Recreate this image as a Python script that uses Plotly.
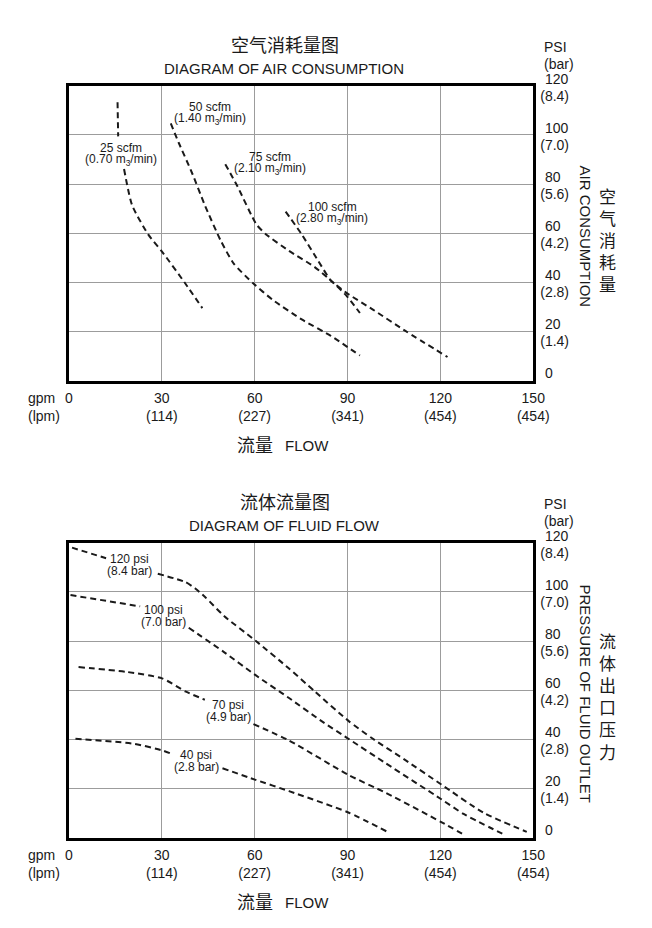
import plotly.graph_objects as go

W, H = 652, 928
FONT = "Liberation Sans, Arial, sans-serif"
CJK = "Noto Sans CJK SC, sans-serif"
INK = "#1a1a1a"
GRID = "#9c9c9c"

# ---------------- data ----------------
gpm_ticks = [0, 30, 60, 90, 120, 150]
gpm_text = ["0", "30", "60", "90", "120", "150"]
lpm_ticks = [30, 60, 90, 120, 150]
lpm_text = ["(114)", "(227)", "(341)", "(454)", "(454)"]
psi_ticks = [0, 20, 40, 60, 80, 100, 120]
psi_text = ["0", "20", "40", "60", "80", "100", "120"]
bar_ticks = [20, 40, 60, 80, 100, 120]
bar_text = ["(1.4)", "(2.8)", "(4.2)", "(5.6)", "(7.0)", "(8.4)"]

# Air consumption (top chart)
air_names = ["25 scfm", "50 scfm", "75 scfm", "100 scfm"]
air_units = ["(0.70 m<sub>3</sub>/min)", "(1.40 m<sub>3</sub>/min)",
             "(2.10 m<sub>3</sub>/min)", "(2.80 m<sub>3</sub>/min)"]
air25_gpm = [15.7, 15.9, None, 17.8, 20.4, 25.6, 30.3, 37.6, 43.1]
air25_psi = [113.3, 99.4, None, 86.1, 71.4, 59.5, 52.1, 39.5, 29.5]
air50_gpm = [32.9, 35.5, 39.7, 43.9, 49.1, 53.3, 59.6, 65.8, 75.2, 84.6, 94.0]
air50_psi = [104.7, 96.7, 84.7, 71.4, 56.8, 47.5, 39.5, 32.9, 24.9, 18.2, 10.2]
air75_gpm = [50.5, 54.3, 60.6, 63.7, 71.1, 79.4, 85.7, 89.9, 94.0]
air75_psi = [88.1, 79.4, 63.5, 59.5, 52.8, 46.2, 39.5, 34.2, 27.5]
air100_gpm = [70.0, 75.2, 80.5, 84.6, 89.9, 98.2, 108.7, 122.3]
air100_psi = [68.8, 59.5, 48.8, 40.8, 35.5, 28.9, 20.2, 9.6]

# Fluid flow (bottom chart)
fluid_names = ["120 psi", "100 psi", "70 psi", "40 psi"]
fluid_units = ["(8.4 bar)", "(7.0 bar)", "(4.9 bar)", "(2.8 bar)"]
f120_gpm = [1.0, 12.0, None, 28.7, 37.6, 40.8, 43.9, 50.2, 60.3, 71.1, 79.4, 90.3, 98.2, 108.7, 120.3, 133.8, 147.9]
f120_psi = [118.0, 113.7, None, 107.4, 104.0, 101.4, 98.0, 90.1, 80.1, 68.8, 59.5, 47.5, 40.2, 31.5, 21.6, 10.2, 2.3]
f100_gpm = [0.5, 23.0, None, 38.7, 50.2, 60.3, 71.1, 81.5, 90.3, 102.4, 120.3, 127.5, 140.0]
f100_psi = [98.7, 94.1, None, 85.4, 75.4, 66.1, 56.8, 47.5, 40.2, 30.2, 15.6, 9.6, 1.6]
f70_gpm = [3.1, 18.8, 30.1, 37.6, 43.9, None, 59.6, 71.1, 90.3, 102.4, 120.3, 128.0]
f70_psi = [69.4, 67.4, 64.8, 59.5, 56.1, None, 46.2, 39.5, 25.5, 18.2, 6.3, 0.9]
f40_gpm = [2.1, 20.9, 30.1, 32.9, None, 49.6, 60.3, 71.1, 90.3, 103.4]
f40_psi = [40.2, 38.2, 35.5, 34.2, None, 28.2, 23.5, 18.9, 10.2, 2.0]

# label anchor points (data coordinates)
air_label_gpm = [16.9, 45.6, 65.0, 85.0]
air_label_psi = [92.4, 108.8, 88.4, 68.4]
fluid_label_gpm = [19.6, 30.5, 51.5, 41.2]
fluid_label_psi = [111.1, 90.3, 51.5, 31.1]

# ---------------- figure ----------------
X0, X1 = 67, 546
TOP = (72, 372)
BOT = (537, 837)
TICK_FS = 14


def xd(px):
    return px / W


def yd(py):
    return 1 - py / H


fig = go.Figure()

dash_line = dict(color=INK, width=2, dash="6px,4px", shape="spline", smoothing=0.6)

for gx, gy in [(air25_gpm, air25_psi), (air50_gpm, air50_psi),
               (air75_gpm, air75_psi), (air100_gpm, air100_psi)]:
    fig.add_trace(go.Scatter(x=gx, y=gy, mode="lines", line=dash_line,
                             xaxis="x", yaxis="y", showlegend=False,
                             hoverinfo="skip", connectgaps=False))

for gx, gy in [(f120_gpm, f120_psi), (f100_gpm, f100_psi),
               (f70_gpm, f70_psi), (f40_gpm, f40_psi)]:
    fig.add_trace(go.Scatter(x=gx, y=gy, mode="lines", line=dash_line,
                             xaxis="x2", yaxis="y2", showlegend=False,
                             hoverinfo="skip", connectgaps=False))

# empty traces so the secondary (lpm / bar) label axes are instantiated
for xa, ya in [("x3", "y"), ("x", "y3"), ("x4", "y2"), ("x2", "y4")]:
    fig.add_trace(go.Scatter(x=[], y=[], xaxis=xa, yaxis=ya, showlegend=False,
                             hoverinfo="skip"))

tickfont = dict(family=FONT, size=TICK_FS, color=INK)
common = dict(tickmode="array", tickfont=tickfont, ticks="", zeroline=False,
              fixedrange=True)


def main_x(anchor):
    return dict(domain=[xd(X0), xd(X1)], anchor=anchor, range=[0, 150],
                tickvals=gpm_ticks, ticktext=gpm_text, showgrid=True,
                gridcolor=GRID, gridwidth=1, showline=True, linecolor="black",
                linewidth=3, mirror=True, ticklabelstandoff=3, **common)


def sub_x(over, anchor):
    return dict(domain=[xd(X0), xd(X1)], anchor=anchor, overlaying=over,
                range=[0, 150], tickvals=lpm_ticks, ticktext=lpm_text,
                showgrid=False, showline=False, ticklabelstandoff=25, **common)


def main_y(anchor, top, bot):
    return dict(domain=[yd(bot), yd(top)], anchor=anchor, side="right",
                range=[0, 120], tickvals=psi_ticks, ticktext=psi_text,
                showgrid=True, gridcolor=GRID, gridwidth=1, showline=True,
                linecolor="black", linewidth=3, mirror=True,
                ticklabelstandoff=6, ticklabelshift=-7, **common)


def sub_y(over, anchor, top, bot):
    return dict(domain=[yd(bot), yd(top)], anchor=anchor, overlaying=over,
                side="right", range=[0, 120], tickvals=bar_ticks,
                ticktext=bar_text, showgrid=False, showline=False,
                ticklabelstandoff=6, ticklabelshift=10, **common)


fig.update_layout(
    width=W, height=H, margin=dict(l=0, r=0, t=0, b=0),
    paper_bgcolor="white", plot_bgcolor="white",
    xaxis=main_x("y"), yaxis=main_y("x", *TOP),
    xaxis3=sub_x("x", "y"), yaxis3=sub_y("y", "x", *TOP),
    xaxis2=main_x("y2"), yaxis2=main_y("x2", *BOT),
    xaxis4=sub_x("x2", "y2"), yaxis4=sub_y("y2", "x2", *BOT),
    showlegend=False,
)

anns = []


def pa(text, x, y, size, family=FONT, xanchor="center", angle=0):
    anns.append(dict(text=text, x=xd(x), y=yd(y), xref="paper", yref="paper",
                     showarrow=False, xanchor=xanchor, yanchor="middle",
                     textangle=angle, font=dict(family=family, size=size, color=INK)))


def block(top, bot, cn_title, en_title, cn_side, en_side):
    pa(cn_title, 290, top - 42, 18, CJK)
    pa(en_title, 289, top - 18, 15)
    pa("PSI", 555, top - 39, TICK_FS, xanchor="left")
    pa("(bar)", 555, top - 22, TICK_FS, xanchor="left")
    mid = (top + bot) / 2
    pa(en_side, 600, mid + 3, 15, angle=90)
    pa("<br>".join(cn_side), 623, mid + 6, 17, CJK)
    pa("gpm", 23, bot + 18, TICK_FS, xanchor="left")
    pa("(lpm)", 23, bot + 36, TICK_FS, xanchor="left")
    pa("流量", 259, bot + 65, 18, CJK)
    pa("FLOW", 313, bot + 66, 15)


block(TOP[0], TOP[1], "空气消耗量图", "DIAGRAM OF AIR CONSUMPTION", "空气消耗量", "AIR CONSUMPTION")
block(BOT[0], BOT[1], "流体流量图", "DIAGRAM OF FLUID FLOW", "流体出口压力", "PRESSURE OF FLUID OUTLET")

labfont = dict(family=FONT, size=12, color=INK)
for (xr, yr, names, units, lx, ly) in [
    ("x", "y", air_names, air_units, air_label_gpm, air_label_psi),
    ("x2", "y2", fluid_names, fluid_units, fluid_label_gpm, fluid_label_psi),
]:
    for n, u, gx, gy in zip(names, units, lx, ly):
        anns.append(dict(text=n, x=gx, y=gy, xref=xr, yref=yr, showarrow=False,
                         yshift=6, font=labfont, xanchor="center", yanchor="middle"))
        anns.append(dict(text=u, x=gx, y=gy, xref=xr, yref=yr, showarrow=False,
                         yshift=-6, font=labfont, xanchor="center", yanchor="middle"))

fig.update_layout(annotations=anns)
fig.write_html("out.html")
